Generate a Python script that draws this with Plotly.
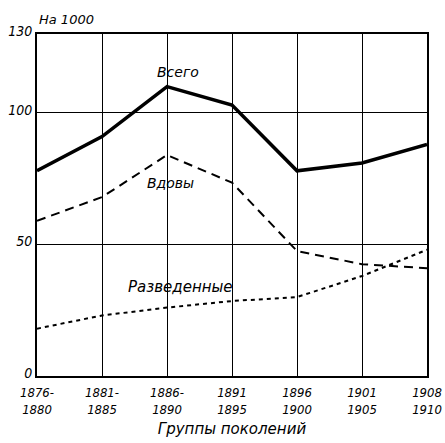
import plotly.graph_objects as go

categories = ["1876-<br>1880", "1881-<br>1885", "1886-<br>1890", "1891<br>1895",
              "1896<br>1900", "1901<br>1905", "1908<br>1910"]
vsego = [78, 91, 110, 103, 78, 81, 88]
vdovy = [59, 68, 84, 73.5, 47.5, 42.5, 41]
razvedennye = [18, 23, 26, 28.5, 30, 38, 48]
y_ticks = [0, 50, 100, 130]

xs = list(range(len(categories)))
FONT = "DejaVu Sans"
TICKFONT = "DejaVu Sans Condensed, DejaVu Sans"

fig = go.Figure()
fig.add_trace(go.Scatter(x=xs, y=vsego, mode="lines", name="Всего",
                         line=dict(color="black", width=3.5)))
fig.add_trace(go.Scatter(x=xs, y=vdovy, mode="lines", name="Вдовы",
                         line=dict(color="black", width=2, dash="9px,6px")))
fig.add_trace(go.Scatter(x=xs, y=razvedennye, mode="lines", name="Разведенные",
                         line=dict(color="black", width=2, dash="4px,4px")))

fig.update_layout(
    width=445, height=443,
    margin=dict(l=37, r=18, t=34, b=67, autoexpand=False),
    paper_bgcolor="white", plot_bgcolor="white",
    showlegend=False,
    font=dict(family=FONT, size=12, color="black", style="italic"),
    xaxis=dict(range=[0, 6], tickvals=xs, ticktext=categories,
               showgrid=True, gridcolor="black", gridwidth=1.3,
               showline=True, linecolor="black", linewidth=2, mirror=True,
               zeroline=False, ticks="", tickangle=0, automargin=False,
               ticklabelstandoff=3,
               tickfont=dict(family=TICKFONT, size=13, style="italic"),
               title=dict(text="Группы поколений", standoff=8,
                          font=dict(family=FONT, size=15, style="italic"))),
    yaxis=dict(range=[0, 130], tickvals=y_ticks, automargin=False,
               showgrid=True, gridcolor="black", gridwidth=1.3,
               showline=True, linecolor="black", linewidth=2, mirror=True,
               zeroline=False, ticks="", ticklabelshift=-3,
               tickfont=dict(family=TICKFONT, size=14, style="italic")),
)

ann_font = dict(family=FONT, size=14, color="black", style="italic")
fig.add_annotation(x=2.17, y=115.6, text="Всего", showarrow=False, font=ann_font)
fig.add_annotation(x=2.05, y=73.5, text="Вдовы", showarrow=False, font=ann_font)
fig.add_annotation(x=2.2, y=34, text="Разведенные",
                   showarrow=False, font=dict(ann_font, size=15))
fig.add_annotation(xref="paper", yref="paper", x=0.0, y=1.0, yshift=5,
                   xanchor="left", yanchor="bottom", text="На 1000", showarrow=False,
                   font=dict(family=FONT, size=13, color="black", style="italic"))

fig.write_html(
    "out.html",
    config={"displayModeBar": False},
    post_script="document.body.style.margin='0';document.body.style.overflow='hidden';",
)
